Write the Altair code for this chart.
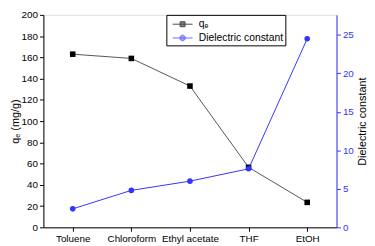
import altair as alt
import pandas as pd

categories = ["Toluene", "Chloroform", "Ethyl acetate", "THF", "EtOH"]
qe_values = [163, 159, 133, 56.5, 23.5]
dielectric_values = [2.4, 4.8, 6.0, 7.6, 24.5]
series_names = ["qₑ", "Dielectric constant"]
series_colors = ["#000000", "#3333ff"]

df = pd.DataFrame({
    "solvent": categories,
    "qe": qe_values,
    "diel": dielectric_values,
})

FONT = "Liberation Sans"

x_axis = alt.Axis(
    tickSize=4, labelAngle=0,
    title=None, grid=False, domainColor="black", tickColor="black",
    labelColor="black", labelFont=FONT, labelFontSize=10, labelPadding=2,
    labelOverlap=False,
)
x_scale = alt.Scale(domain=categories, padding=0.5)

color_scale = alt.Scale(domain=series_names, range=series_colors)

left_axis = alt.Axis(
    values=list(range(0, 201, 20)),
    tickSize=4,
    labelOverlap=False,
    title="qₑ (mg/g)", titleFont=FONT, titleFontSize=11, titleFontWeight="normal",
    titlePadding=1, grid=False, domainColor="black", tickColor="black",
    labelColor="black", labelFont=FONT, labelFontSize=10, labelPadding=2,
)

right_axis = alt.Axis(
    orient="right",
    values=[0, 5, 10, 15, 20, 25],
    tickSize=4,
    labelOverlap=False,
    title="Dielectric constant", titleFont=FONT, titleFontSize=11, titleFontWeight="normal",
    titleAngle=270, titleBaseline="top", titleColor="black", titlePadding=3, grid=False,
    domainColor=series_colors[1], tickColor=series_colors[1],
    labelColor=series_colors[1], labelFont=FONT, labelFontSize=10, labelPadding=2,
)

base = alt.Chart(df)
X = alt.X("solvent:O", scale=x_scale, axis=x_axis, sort=categories)

qe_line = base.mark_line(color="#555555", strokeWidth=1).encode(
    x=X,
    y=alt.Y("qe:Q", scale=alt.Scale(domain=[0, 200], nice=False), axis=left_axis),
)
qe_pts = base.mark_point(shape="square", filled=True, color="black", size=32, opacity=1).encode(
    x=X, y=alt.Y("qe:Q", axis=left_axis)
)

legend_df = pd.DataFrame({"series": series_names, "solvent": categories[:2], "qe": [0, 0]})
sq_path = "M-1.45,0L1.45,0M-0.36,-0.36L0.36,-0.36L0.36,0.36L-0.36,0.36Z"
ci_path = "M-1.45,0L1.45,0M0.4,0A0.4,0.4,0,1,1,-0.4,0A0.4,0.4,0,1,1,0.4,0Z"
legend_layer = alt.Chart(legend_df).transform_filter("false").mark_point(filled=True).encode(
    x=X, y=alt.Y("qe:Q", axis=left_axis),
    color=alt.Color("series:N", scale=color_scale, legend=alt.Legend(
        title=None, orient="none", legendX=125, legendY=0,
        labelFont=FONT, labelFontSize=10.5, labelColor="black",
        symbolSize=196, symbolStrokeWidth=1, symbolOpacity=1,
        symbolOffset=7, labelOffset=9,
        strokeColor="black", fillColor="white", padding=2, rowPadding=1,
        labelLimit=200,
    )),
    stroke=alt.Stroke("series:N", scale=color_scale),
    shape=alt.Shape("series:N", scale=alt.Scale(domain=series_names, range=[sq_path, ci_path])),
)

left = alt.layer(qe_line, qe_pts, legend_layer)

d_line = base.mark_line(color=series_colors[1], strokeWidth=1).encode(
    x=X,
    y=alt.Y("diel:Q", scale=alt.Scale(domain=[0, 27.6], nice=False), axis=right_axis),
)
d_pts = base.mark_point(shape="circle", filled=True, color=series_colors[1], size=32, opacity=1).encode(
    x=X, y=alt.Y("diel:Q", axis=right_axis)
)
right = alt.layer(d_line, d_pts)

chart = alt.layer(left, right).resolve_scale(y="independent").properties(
    width=298, height=216,
    autosize="none",
    padding={"left": 36, "top": 5, "right": 31, "bottom": 17},
).configure_view(stroke="#444444", strokeWidth=1).configure(background="white")

chart.save("out.html", embed_options={"renderer": "svg", "actions": False})
